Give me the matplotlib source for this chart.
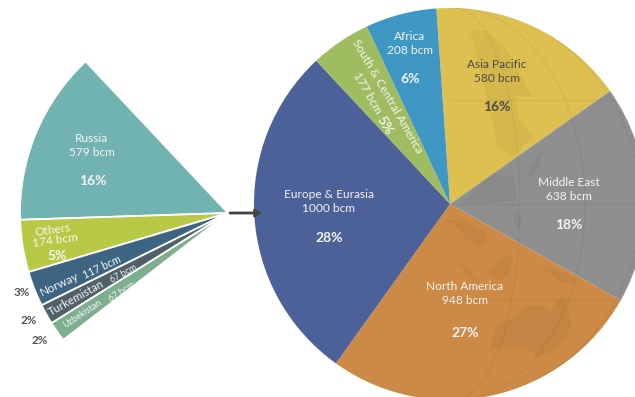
import numpy as np
import matplotlib
matplotlib.use("Agg")
import matplotlib.pyplot as plt
from matplotlib.patches import Arc, Circle, Polygon

W, H = 635, 397

regions = ["Asia Pacific", "Middle East", "North America", "Europe & Eurasia",
           "South & Central America", "Africa"]
region_bcm = [580, 638, 948, 1000, 177, 208]
region_pct = [16, 18, 27, 28, 5, 6]
region_colors = ["#DDC050", "#8F8F8F", "#CC8A46", "#4C6198", "#A0BC60", "#3F98C4"]

countries = ["Russia", "Others", "Norway", "Turkemistan", "Uzbekistan"]
country_bcm = [579, 174, 117, 67, 67]
country_pct = [16, 5, 3, 2, 2]
country_colors = ["#70B3B1", "#B8CA45", "#3D6582", "#4F6066", "#7DAF8E"]

plt.rcParams["font.family"] = ["Lato", "DejaVu Sans"]

fig = plt.figure(figsize=(W / 100, H / 100), dpi=100)
ax = fig.add_axes([0, 0, 1, 1])


def Y(py):
    # work in pixels measured from the top
    return H - py


# main pie, clockwise from just left of north
main_c = (450, Y(204))
main_r = 196
ax.pie(region_bcm, colors=region_colors, center=main_c, radius=main_r,
       startangle=94, counterclock=False, frame=True,
       wedgeprops={"linewidth": 0})

# exploded part of Europe & Eurasia, a fan of about 84 degrees
fan_sweep = 84.4
fan_fracs = [v / sum(country_bcm) * fan_sweep / 360 for v in country_bcm]
ax.pie(fan_fracs, colors=country_colors, center=(228, Y(213)), radius=208,
       startangle=133.2, normalize=False, frame=True,
       wedgeprops={"linewidth": 1.3, "edgecolor": "white"})

ax.set_xlim(0, W)
ax.set_ylim(0, H)
ax.set_aspect("equal")
ax.axis("off")

# globe behind the slices: faint graticule and land masses
clip = Circle(main_c, main_r, transform=ax.transData)
for w in [130, 260, 370]:
    a = Arc((455, Y(204)), w, 2 * main_r, theta1=-90, theta2=90, ec="#000000", alpha=0.05, lw=0.8)
    ax.add_patch(a)
    a.set_clip_path(clip)
for py in [100, 204, 300]:
    ln, = ax.plot([450, 635], [Y(py), Y(py)], color="#000000", alpha=0.05, lw=0.8)
    ln.set_clip_path(clip)

land = [
    [(490, 350), (495, 327), (513, 318), (527, 307), (543, 305), (550, 313), (563, 293),
     (572, 322), (567, 337), (550, 353), (537, 358), (527, 347), (503, 348)],
    [(490, 273), (503, 255), (513, 257), (507, 277), (497, 280)],
    [(455, 258), (470, 270), (483, 287), (477, 283), (463, 270)],
    [(447, 220), (463, 220), (483, 230), (488, 240), (480, 248), (467, 240), (460, 230)],
    [(543, 268), (560, 270), (580, 283), (563, 283)],
    [(470, 30), (487, 30), (507, 50), (527, 87), (533, 97), (515, 95), (520, 120),
     (533, 137), (513, 157), (497, 147), (490, 110), (480, 70)],
    [(493, 173), (513, 177), (517, 200), (480, 204), (462, 204), (478, 185)],
    [(527, 173), (535, 160), (543, 147), (540, 165), (530, 178)],
    [(513, 212), (520, 215), (521, 228), (515, 226)],
]
for pts in land:
    poly = Polygon([(x, Y(y)) for x, y in pts], closed=True, fc="#000000", ec="none", alpha=0.04)
    ax.add_patch(poly)
    poly.set_clip_path(clip)

# arrow from the fan to the main pie
ax.annotate("", xy=(262, Y(213)), xytext=(230, Y(213)),
            arrowprops={"arrowstyle": "-|>,head_width=0.22,head_length=0.35",
                        "color": "#444444", "lw": 2, "shrinkA": 0, "shrinkB": 0})

NAME = 8.6
PCT = 10


def label(px, py, s, color="#F4F4F4", size=NAME, rot=0, weight="normal"):
    ax.text(px, Y(py), s, color=color, fontsize=size, rotation=rot, weight=weight,
            ha="center", va="center", rotation_mode="anchor")


# regions
pos = {"Asia Pacific": (497, 64, 78, 107, "#4A4A4A"),
       "Middle East": (569, 182, 197, 225, "#F4F4F4"),
       "North America": (465, 286, 300, 333, "#F4F4F4"),
       "Europe & Eurasia": (329, 194, 209, 238, "#F4F4F4"),
       "Africa": (410, 36, 50, 79, "#F4F4F4")}
for name, bcm, pct in zip(regions, region_bcm, region_pct):
    if name not in pos:
        label(387, 96, name, rot=-60)
        label(367, 93, f"{bcm} bcm", rot=-60)
        label(385, 125, f"{pct}%", size=PCT, rot=-60, weight="bold")
        continue
    x, y1, y2, y3, col = pos[name]
    label(x, y1, name, col)
    label(x, y2, f"{bcm} bcm", col)
    label(x, y3, f"{pct}%", col, size=PCT, weight="bold")

# fan labels
label(92, 138, countries[0])
label(92, 152, f"{country_bcm[0]} bcm")
label(93, 181, f"{country_pct[0]}%", size=PCT, weight="bold")

label(53, 230, countries[1], rot=8)
label(55, 240, f"{country_bcm[1]} bcm", rot=8)
label(57, 256, f"{country_pct[1]}%", size=PCT, weight="bold")

label(59, 284, countries[2], rot=25)
label(102, 267, f"{country_bcm[2]} bcm", size=7.6, rot=25)
label(76, 298, countries[3], size=8.2, rot=29)
label(124, 274, f"{country_bcm[3]} bcm", size=6.4, rot=29)
label(82, 314, countries[4], size=6.6, rot=33)
label(122, 292, f"{country_bcm[4]} bcm", size=6.4, rot=33)

label(22, 293, f"{country_pct[2]}%", "#555555", size=8.4, weight="bold")
label(29, 321, f"{country_pct[3]}%", "#555555", size=8.4, weight="bold")
label(40, 341, f"{country_pct[4]}%", "#555555", size=8.4, weight="bold")

fig.savefig("out.png", dpi=100, facecolor="white")
